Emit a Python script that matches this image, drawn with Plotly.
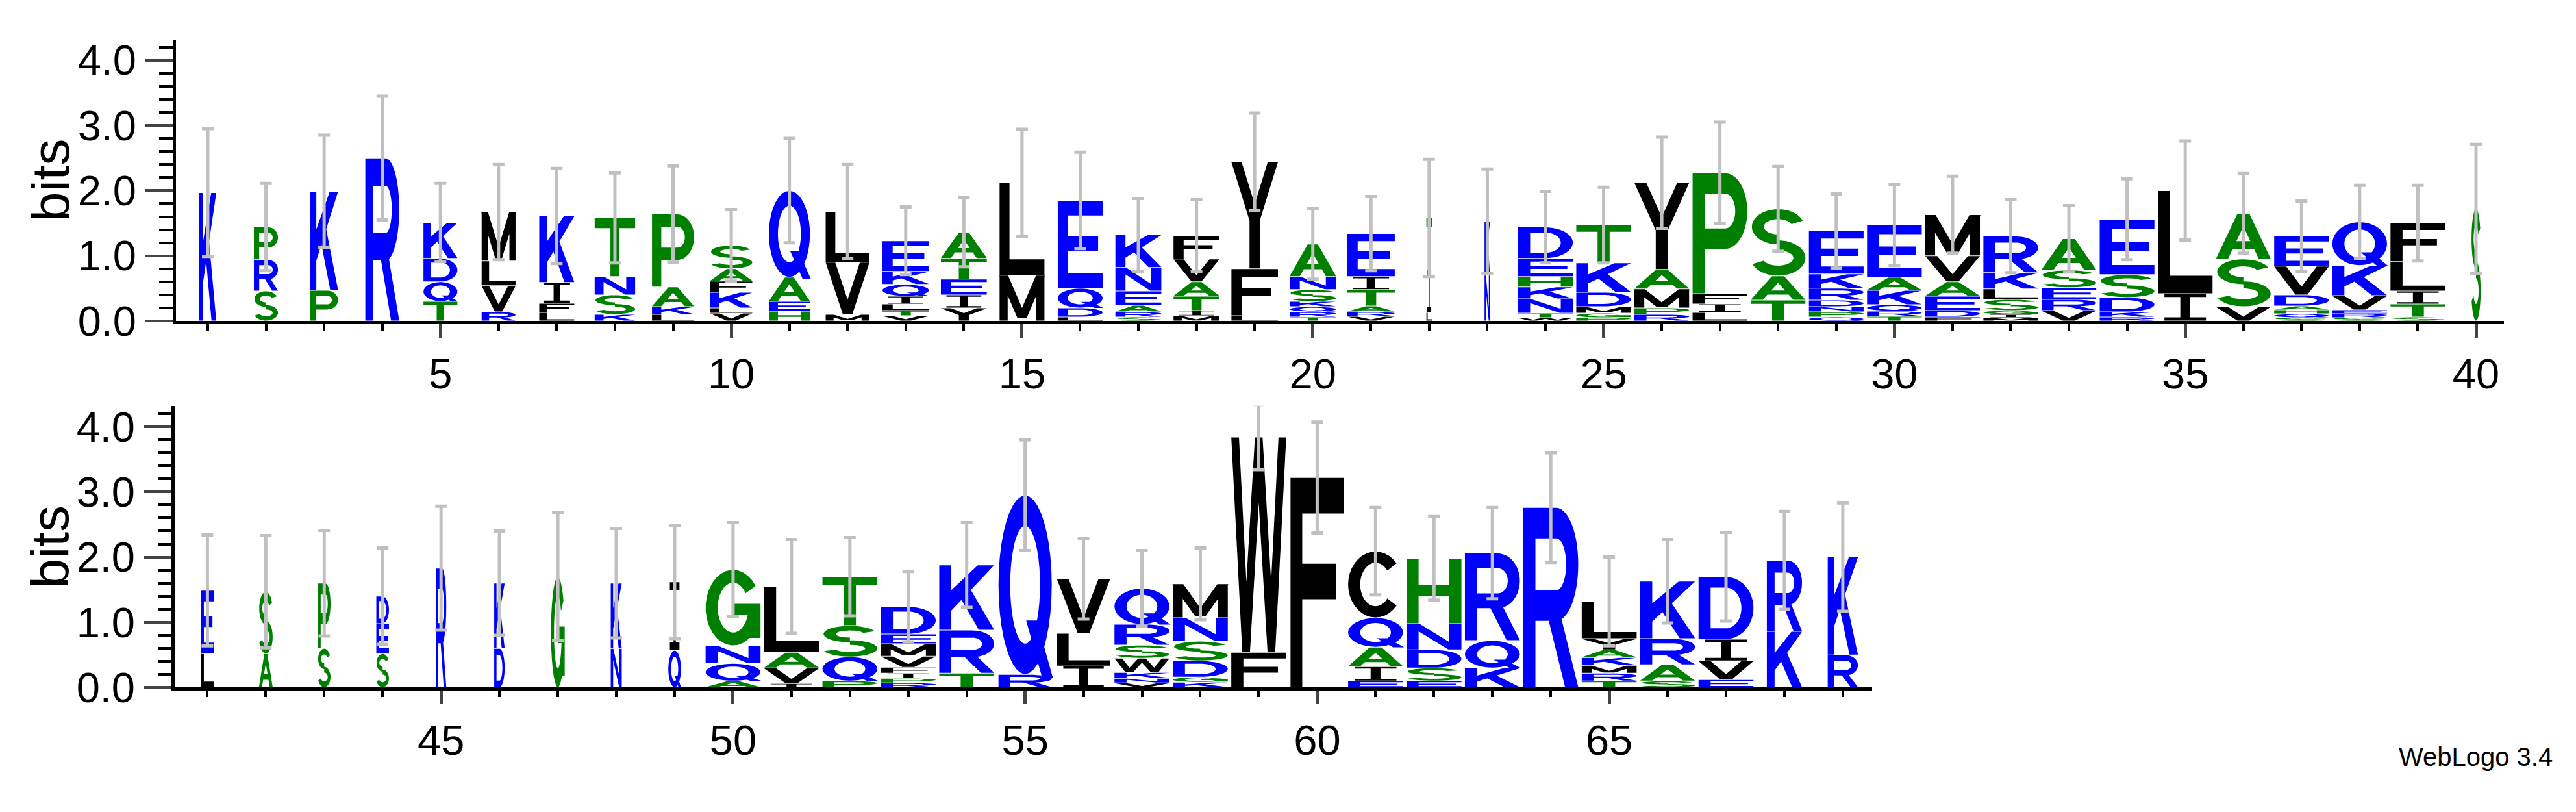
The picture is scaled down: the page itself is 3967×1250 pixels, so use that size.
import math
import plotly.graph_objects as go

# sequence logo data, letters listed bottom -> top with heights in bits
POSITIONS = list(range(1, 70))
LETTERS = [
    "K", "SRP", "PK", "R", "TQDK", "RVLM", "LFIK", "KSNT", "LKAP", "VLKFAS",
    "HEAQ", "MVL", "VTLIQKE", "YIETA", "ML", "LDQE", "SRAENK", "MITAVF", "LFY", "TRQKSNA",
    "VRATIE", "LIT", "NK", "WTNKHED", "PGMDKT", "RPMAY", "LIFP", "TAS", "QPNDRKE", "TRQKAE",
    "FDEAVM", "MIGSLKR", "VRESA", "RKDSE", "IL", "VSA", "SQHADVE", "SREVKQ", "STILF", "S",
    "LE", "AS", "SP", "SED", "R", "DK", "G", "NK", "QI", "AQNG",
    "IVAL", "PQST", "RPIFVMED", "TRK", "RQ", "ILV", "VNKWSRQ", "KGDSNM", "FW", "F",
    "EIAQC", "ESDNH", "KQR", "R", "TRMKAYL", "SARK", "EVID", "KR", "RK",
]
HEIGHTS = [
    [1.97], [.46, .48, .5], [.47, 1.52], [2.5], [.3, .3, .36, .55],
    [.14, .4, .38, .75], [.13, .14, .32, 1.02], [.1, .3, .28, .9], [.1, .12, .3, 1.12],
    [.12, .08, .24, .17, .19, .36], [.15, .15, .37, 1.33], [.1, .8, .78],
    [.08, .08, .1, .12, .18, .2, .47], [.2, .2, .24, .32, .4], [.7, 1.42],
    [.06, .14, .3, 1.35], [.06, .08, .1, .22, .36, .5], [.08, .08, .22, .22, .35, .36],
    [.08, .72, 1.64], [.06, .08, .08, .08, .18, .2, .5], [.07, .07, .09, .25, .2, .66],
    [.13, .65, .8], [.7, .83], [.05, .07, .22, .18, .16, .28, .48],
    [.05, .07, .1, .22, .45, .58], [.1, .1, .29, .3, 1.33], [.13, .13, .16, 1.85],
    [.32, .37, 1.03], [.06, .08, .08, .1, .18, .22, .66], [.07, .08, .1, .22, .2, .8],
    [.06, .1, .22, .22, .4, .63], [.05, .05, .06, .17, .16, .25, .56], [.16, .17, .18, .27, .48],
    [.06, .08, .22, .35, .85], [.42, 1.58], [.22, .73, .7],
    [.05, .06, .06, .06, .17, .44, .46], [.05, .06, .06, .22, .46, .67], [.06, .2, .2, .45, .59],
    [1.72], [.52, .97], [.52, .95], [.6, 1.0], [.52, .46, .42], [1.83], [.6, 1.0], [1.7],
    [.6, 1.0], [.57, 1.05], [.1, .27, .27, 1.17], [.06, .24, .24, 1.01], [.1, .37, .48, .75],
    [.07, .07, .08, .09, .17, .19, .15, .42], [.22, .66, 1.0], [.2, 2.75], [.33, .5, .84],
    [.07, .07, .09, .22, .2, .32, .55], [.08, .08, .25, .3, .36, .52], [.54, 3.3], [3.22],
    [.1, .22, .3, .45, 1.02], [.1, .2, .28, .4, 1.0], [.3, .42, 1.34], [2.76],
    [.1, .12, .12, .12, .12, .17, .57], [.1, .25, .4, .88], [.12, .29, .33, .96],
    [.86, 1.09], [.5, 1.5],
]
ERRORS = [
    .98, .67, .86, .95, .6, .73, .73, .69, .74, .55, .8, .72, .52, .53, .82, .74, .56, .55,
    .75, .54, .57, .9, .8, .55, .58, .7, .78, .65, .57, .62, .59, .56, .51, .62, .76, .61,
    .54, .56, .58, .99, .85, .86, .81, .74, .95, .8, .98, .84, .87, .72, .72, .6, .54, .65,
    .85, .62, .58, .55, .5, .85, .67, .64, .7, .84, .68, .64, .68, .75, .83,
]
WIDTHS = [
    .31, .44, .51, .62, .62, .62, .64, .74, .77, .77, .75, .8, .85, .84, .82, .82, .84, .84,
    .85, .85, .87, .1, .1, 1, 1, 1, 1, 1, 1, 1, 1, 1, 1, 1, 1, 1, 1, 1, 1, .17,
    .23, .25, .23, .23, .19, .19, .25, .2, .23, 1, 1, 1, 1, 1, .97, .97, 1, 1, 1, .97,
    1, 1, 1, 1, 1, 1, 1, .64, .55,
]

BLUE, GREEN, BLACK = "#0000ff", "#008000", "#000000"
COLORS = {}
for c in "DEKNQR":
    COLORS[c] = BLUE
for c in "AGHPST":
    COLORS[c] = GREEN
for c in "CFILMVWY":
    COLORS[c] = BLACK


# ---- block glyphs in a unit box ----
def ccw(pts):
    a = sum(pts[i][0] * pts[i - 1][1] - pts[i - 1][0] * pts[i][1] for i in range(len(pts)))
    return pts if a < 0 else pts[::-1]


def rect(x0, y0, x1, y1):
    return ccw([(x0, y0), (x1, y0), (x1, y1), (x0, y1)])


def bar(x0, y0, x1, y1, w):
    return ccw([(x0 - w / 2, y0), (x0 + w / 2, y0), (x1 + w / 2, y1), (x1 - w / 2, y1)])


def arc(cx, cy, rx, ry, tx, ty, a0, a1, n=28):
    angs = [math.radians(a0 + (a1 - a0) * i / n) for i in range(n + 1)]
    outer = [(cx + rx * math.cos(a), cy + ry * math.sin(a)) for a in angs]
    inner = [(cx + (rx - tx) * math.cos(a), cy + (ry - ty) * math.sin(a)) for a in angs]
    return ccw(outer + inner[::-1])


def ring():
    angs = [math.radians(360 * i / 40) for i in range(40)]
    outer = [(0.5 + 0.5 * math.cos(a), 0.5 + 0.5 * math.sin(a)) for a in angs]
    inner = [(0.5 + 0.28 * math.cos(a), 0.5 + 0.33 * math.sin(a)) for a in angs]
    return [ccw(outer), ccw(inner)[::-1]]


SW, SH = 0.22, 0.17
STEM = rect(0, 0, SW, 1)
P_PARTS = [STEM, rect(0, 1 - SH, 0.6, 1), rect(0, 0.37, 0.6, 0.37 + SH),
           arc(0.6, 0.685, 0.4, 0.315, SW, SH, -90, 90)]
GLYPHS = {
    "A": [bar(0.11, 0, 0.5, 1, SW), bar(0.89, 0, 0.5, 1, SW), rect(0.2, 0.22, 0.8, 0.22 + SH)],
    "C": [arc(0.5, 0.5, 0.5, 0.5, SW, SH, 40, 320)],
    "D": [STEM, rect(0, 1 - SH, 0.5, 1), rect(0, 0, 0.5, SH), arc(0.5, 0.5, 0.5, 0.5, SW, SH, -90, 90)],
    "E": [STEM, rect(0, 1 - SH, 1, 1), rect(0, 0.42, 0.9, 0.42 + SH), rect(0, 0, 1, SH)],
    "F": [STEM, rect(0, 1 - SH, 1, 1), rect(0, 0.42, 0.85, 0.42 + SH)],
    "G": [arc(0.5, 0.5, 0.5, 0.5, SW, SH, 35, 360), rect(0.78, 0.1, 1, 0.55), rect(0.52, 0.4, 1, 0.55)],
    "H": [STEM, rect(1 - SW, 0, 1, 1), rect(0, 0.42, 1, 0.42 + SH)],
    "I": [rect(0.41, 0, 0.59, 1), rect(0.12, 1 - 0.12, 0.88, 1), rect(0.12, 0, 0.88, 0.12)],
    "K": [STEM, ccw([(0.2, 0.28), (1, 1), (0.7, 1), (0.2, 0.6)]),
          ccw([(0.38, 0.5), (0.72, 0), (1, 0), (0.56, 0.64)])],
    "L": [STEM, rect(0, 0, 1, SH)],
    "M": [rect(0, 0, 0.18, 1), rect(0.82, 0, 1, 1), bar(0.09, 1, 0.5, 0.05, 0.2), bar(0.91, 1, 0.5, 0.05, 0.2)],
    "N": [STEM, rect(1 - SW, 0, 1, 1), bar(0.12, 1, 0.88, 0, 0.24)],
    "P": P_PARTS,
    "Q": ring() + [bar(0.62, 0.3, 0.92, -0.02, 0.2)],
    "R": P_PARTS + [bar(0.52, 0.45, 0.88, 0, 0.24)],
    "S": [arc(0.5, 0.735, 0.48, 0.265, SW, 0.15, 20, 270), arc(0.5, 0.265, 0.5, 0.265, SW, 0.15, -160, 90)],
    "T": [rect(0, 1 - SH, 1, 1), rect(0.39, 0, 0.61, 1)],
    "V": [bar(0.11, 1, 0.5, 0, SW), bar(0.89, 1, 0.5, 0, SW)],
    "W": [bar(0.07, 1, 0.27, 0, 0.14), bar(0.5, 1, 0.27, 0, 0.14),
          bar(0.5, 1, 0.73, 0, 0.14), bar(0.93, 1, 0.73, 0, 0.14)],
    "Y": [bar(0.11, 1, 0.5, 0.45, SW), bar(0.89, 1, 0.5, 0.45, SW), rect(0.39, 0, 0.61, 0.5)],
}

fig = go.Figure()
shapes = []
tot_top, tot_bot = [], []
for pos, letters, hts, w in zip(POSITIONS, LETTERS, HEIGHTS, WIDTHS):
    panel = "" if pos <= 40 else "2"
    hw = 0.47 * w
    y0 = 0.0
    for ch, h in zip(letters, hts):
        path = ""
        for piece in GLYPHS[ch]:
            pts = [(pos - hw + px * 2 * hw, y0 + 0.005 + py * (h - 0.01)) for px, py in piece]
            path += "M" + "L".join(f"{a:.4f},{b:.4f}" for a, b in pts) + "Z"
        shapes.append(dict(type="path", path=path, xref="x" + panel, yref="y" + panel,
                           fillcolor=COLORS[ch], line=dict(width=0), layer="below",
                           fillrule="nonzero"))
        y0 += h
    (tot_top if pos <= 40 else tot_bot).append((pos, y0))

for pts, errs, ax in [(tot_top, ERRORS[:40], ("x", "y")), (tot_bot, ERRORS[40:], ("x2", "y2"))]:
    fig.add_trace(go.Scatter(
        x=[p for p, _ in pts], y=[t for _, t in pts], mode="markers",
        marker=dict(size=1, color="rgba(0,0,0,0)"), xaxis=ax[0], yaxis=ax[1],
        error_y=dict(type="data", array=errs, color="#c0c0c0", thickness=5, width=9),
        hoverinfo="skip", showlegend=False,
    ))

tickfont = dict(family="Liberation Sans", size=65, color="black")
xcommon = dict(showline=True, linewidth=5, linecolor="black", ticks="outside", ticklen=21,
               tickwidth=5, dtick=5, tick0=0, tickfont=tickfont, showgrid=False, zeroline=False,
               minor=dict(dtick=1, ticks="outside", ticklen=10, tickwidth=4, tickcolor="black"))
ycommon = dict(showline=True, linewidth=5, linecolor="black", ticks="outside", ticklen=43,
               tickwidth=4, dtick=1, tick0=0, tickformat=".1f", tickfont=tickfont, showgrid=False,
               zeroline=False, range=[0, 4.32],
               minor=dict(dtick=0.2, ticks="outside", ticklen=21, tickwidth=4, tickcolor="black"))

bits_font = dict(family="Liberation Sans", size=82, color="black")
fig.update_layout(
    width=3967, height=1250, margin=dict(l=0, r=0, t=0, b=0),
    paper_bgcolor="white", plot_bgcolor="white", shapes=shapes,
    xaxis=dict(domain=[0.0663, 0.970], range=[0.453, 40.48], anchor="y", **xcommon),
    yaxis=dict(domain=[0.6008, 0.959], anchor="x", **ycommon),
    xaxis2=dict(domain=[0.0658, 0.7247], range=[40.44, 69.5], anchor="y2", **xcommon),
    yaxis2=dict(domain=[0.1344, 0.4928], anchor="x2", **ycommon),
    annotations=[
        dict(text="bits", x=69 / 3967, y=1 - 275 / 1250, xref="paper", yref="paper", textangle=-90,
             xanchor="center", yanchor="middle", showarrow=False, font=bits_font),
        dict(text="bits", x=69 / 3967, y=1 - 858 / 1250, xref="paper", yref="paper", textangle=-90,
             xanchor="center", yanchor="middle", showarrow=False, font=bits_font),
        dict(text="WebLogo 3.4", x=3925 / 3967, y=1 - 1217 / 1250, xref="paper", yref="paper",
             xanchor="right", showarrow=False,
             font=dict(family="Liberation Sans", size=40, color="black")),
    ],
)

fig.write_html("out.html")
